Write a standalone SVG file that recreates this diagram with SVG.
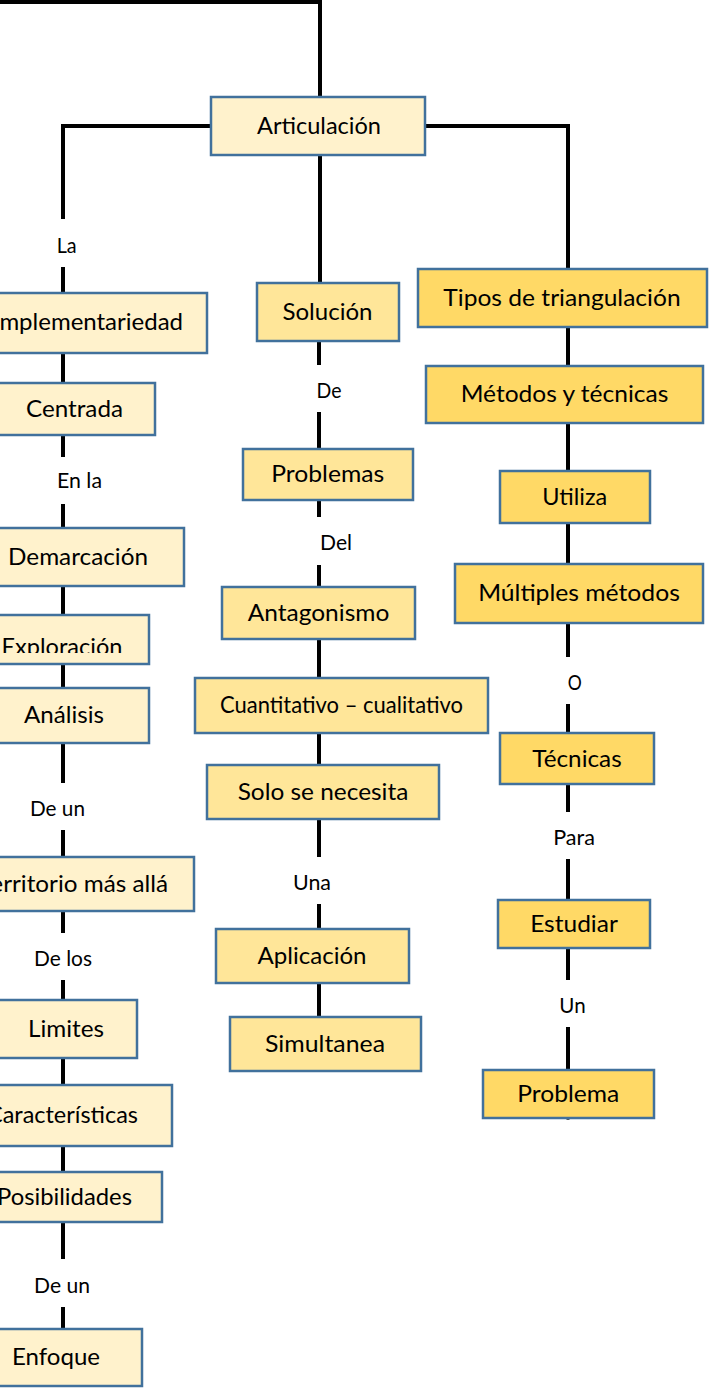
<svg xmlns="http://www.w3.org/2000/svg" width="711" height="1390" viewBox="0 0 711 1390">
<defs>
<style>
.c{stroke:#000;stroke-width:4;fill:none}
.b{stroke:#41719C;stroke-width:2.5}
.l1{fill:#FFF2CC}
.l2{fill:#FFE699}
.l3{fill:#FFD966}
.t{font-family:Lato,"Open Sans",sans-serif;font-size:24px;fill:#000;text-anchor:middle}
.s{font-family:Lato,"Open Sans",sans-serif;font-size:21.5px;fill:#000;text-anchor:middle}
</style>
<clipPath id="clipExp"><rect x="-30" y="600" width="200" height="53"/></clipPath>
</defs>
<rect width="711" height="1390" fill="#fff"/>
<g id="connectors">
<path class="c" d="M0,2 H320 V97"/>
<path class="c" d="M211,126 H63 V219"/>
<path class="c" d="M63,267 V293"/>
<path class="c" d="M425,126 H568 V269"/>
<path class="c" d="M320,155 V283"/>
<path class="c" d="M63,353 V383"/>
<path class="c" d="M63,435 V457"/>
<path class="c" d="M63,504 V528"/>
<path class="c" d="M63,586 V616"/>
<path class="c" d="M63,664 V688"/>
<path class="c" d="M63,743 V783"/>
<path class="c" d="M63,830 V857"/>
<path class="c" d="M63,911 V933"/>
<path class="c" d="M63,980 V1000"/>
<path class="c" d="M63,1058 V1085"/>
<path class="c" d="M63,1146 V1172"/>
<path class="c" d="M63,1222 V1259"/>
<path class="c" d="M63,1307 V1329"/>
<path class="c" d="M319,341 V365"/>
<path class="c" d="M319,412 V449"/>
<path class="c" d="M319,500 V517"/>
<path class="c" d="M319,565 V587"/>
<path class="c" d="M319,639 V678"/>
<path class="c" d="M319,733 V765"/>
<path class="c" d="M319,819 V857"/>
<path class="c" d="M319,904 V929"/>
<path class="c" d="M319,983 V1017"/>
<path class="c" d="M568,327 V366"/>
<path class="c" d="M568,423 V471"/>
<path class="c" d="M568,523 V564"/>
<path class="c" d="M568,623 V657"/>
<path class="c" d="M568,704 V733"/>
<path class="c" d="M568,784 V812"/>
<path class="c" d="M568,859 V900"/>
<path class="c" d="M568,948 V980"/>
<path class="c" d="M568,1027 V1070"/>
<path d="M568,1110 V1120" stroke="#555" stroke-width="3"/>
</g>
<g id="labels">
<text class="s" x="66.7" y="253" textLength="20" lengthAdjust="spacingAndGlyphs">La</text>
<text class="s" x="79.5" y="488" textLength="45" lengthAdjust="spacingAndGlyphs">En la</text>
<text class="s" x="57.5" y="816" textLength="55" lengthAdjust="spacingAndGlyphs">De un</text>
<text class="s" x="63" y="966" textLength="58" lengthAdjust="spacingAndGlyphs">De los</text>
<text class="s" x="62" y="1293" textLength="56" lengthAdjust="spacingAndGlyphs">De un</text>
<text class="s" x="329" y="398" textLength="25" lengthAdjust="spacingAndGlyphs">De</text>
<text class="s" x="336" y="550" textLength="32" lengthAdjust="spacingAndGlyphs">Del</text>
<text class="s" x="312" y="890" textLength="38" lengthAdjust="spacingAndGlyphs">Una</text>
<text class="s" x="574.7" y="690" textLength="14" lengthAdjust="spacingAndGlyphs">O</text>
<text class="s" x="574" y="845" textLength="41.7" lengthAdjust="spacingAndGlyphs">Para</text>
<text class="s" x="572.5" y="1013" textLength="26.3" lengthAdjust="spacingAndGlyphs">Un</text>
</g>
<g id="n-articulacion"><rect class="b l1" x="211" y="97" width="214" height="58"/><text class="t" x="319" y="134" textLength="124" lengthAdjust="spacingAndGlyphs">Articulación</text></g>
<g id="n-complementariedad"><rect class="b l1" x="-54" y="293" width="261" height="60"/><text class="t" x="76.5" y="330" textLength="213" lengthAdjust="spacingAndGlyphs">Complementariedad</text></g>
<g id="n-centrada"><rect class="b l1" x="-6" y="383" width="161" height="52"/><text class="t" x="74.5" y="417" textLength="97" lengthAdjust="spacingAndGlyphs">Centrada</text></g>
<g id="n-demarcacion"><rect class="b l1" x="-28" y="528" width="212" height="58"/><text class="t" x="78" y="565" textLength="140" lengthAdjust="spacingAndGlyphs">Demarcación</text></g>
<g id="n-exploracion"><rect class="b l1" x="-24" y="615" width="173" height="49"/><text class="t" x="62" y="655" textLength="121" lengthAdjust="spacingAndGlyphs" clip-path="url(#clipExp)">Exploración</text></g>
<g id="n-analisis"><rect class="b l1" x="-21" y="688" width="170" height="55"/><text class="t" x="64" y="723" textLength="80" lengthAdjust="spacingAndGlyphs">Análisis</text></g>
<g id="n-territorio"><rect class="b l1" x="-47" y="857" width="241" height="54"/><text class="t" x="73.5" y="892" textLength="189" lengthAdjust="spacingAndGlyphs">Territorio más allá</text></g>
<g id="n-limites"><rect class="b l1" x="-5" y="1000" width="142" height="58"/><text class="t" x="66" y="1037" textLength="76" lengthAdjust="spacingAndGlyphs">Limites</text></g>
<g id="n-caracteristicas"><rect class="b l1" x="-47" y="1085" width="219" height="61"/><text class="t" x="62.5" y="1123" textLength="151" lengthAdjust="spacingAndGlyphs">Características</text></g>
<g id="n-posibilidades"><rect class="b l1" x="-33" y="1172" width="195" height="50"/><text class="t" x="64.5" y="1205" textLength="135" lengthAdjust="spacingAndGlyphs">Posibilidades</text></g>
<g id="n-enfoque"><rect class="b l1" x="-30" y="1329" width="172" height="57"/><text class="t" x="56" y="1365" textLength="88" lengthAdjust="spacingAndGlyphs">Enfoque</text></g>
<g id="n-solucion"><rect class="b l2" x="257" y="283" width="142" height="58"/><text class="t" x="327.5" y="320" textLength="90" lengthAdjust="spacingAndGlyphs">Solución</text></g>
<g id="n-problemas"><rect class="b l2" x="243" y="449" width="170" height="51"/><text class="t" x="327.7" y="482" textLength="113" lengthAdjust="spacingAndGlyphs">Problemas</text></g>
<g id="n-antagonismo"><rect class="b l2" x="222" y="587" width="193" height="52"/><text class="t" x="318.5" y="621" textLength="141.6" lengthAdjust="spacingAndGlyphs">Antagonismo</text></g>
<g id="n-cuantitativo"><rect class="b l2" x="195" y="678" width="293" height="55"/><text class="t" x="341.5" y="713" font-size="21.5" textLength="243" lengthAdjust="spacingAndGlyphs">Cuantitativo – cualitativo</text></g>
<g id="n-solo"><rect class="b l2" x="207" y="765" width="232" height="54"/><text class="t" x="323" y="800" textLength="170.7" lengthAdjust="spacingAndGlyphs">Solo se necesita</text></g>
<g id="n-aplicacion"><rect class="b l2" x="216" y="929" width="193" height="54"/><text class="t" x="312" y="964" textLength="109" lengthAdjust="spacingAndGlyphs">Aplicación</text></g>
<g id="n-simultanea"><rect class="b l2" x="230" y="1017" width="191" height="54"/><text class="t" x="325" y="1052" textLength="120" lengthAdjust="spacingAndGlyphs">Simultanea</text></g>
<g id="n-tipos"><rect class="b l3" x="418" y="269" width="289" height="58"/><text class="t" x="562" y="306" textLength="237.3" lengthAdjust="spacingAndGlyphs">Tipos de triangulación</text></g>
<g id="n-metodos"><rect class="b l3" x="426" y="366" width="277" height="57"/><text class="t" x="564.5" y="402" textLength="207.7" lengthAdjust="spacingAndGlyphs">Métodos y técnicas</text></g>
<g id="n-utiliza"><rect class="b l3" x="500" y="471" width="150" height="52"/><text class="t" x="574.8" y="505" textLength="65" lengthAdjust="spacingAndGlyphs">Utiliza</text></g>
<g id="n-multiples"><rect class="b l3" x="455" y="564" width="248" height="59"/><text class="t" x="579" y="601" textLength="201.7" lengthAdjust="spacingAndGlyphs">Múltiples métodos</text></g>
<g id="n-tecnicas"><rect class="b l3" x="500" y="733" width="154" height="51"/><text class="t" x="577" y="767" textLength="89.3" lengthAdjust="spacingAndGlyphs">Técnicas</text></g>
<g id="n-estudiar"><rect class="b l3" x="498" y="900" width="152" height="48"/><text class="t" x="574" y="932" textLength="87.7" lengthAdjust="spacingAndGlyphs">Estudiar</text></g>
<g id="n-problema"><rect class="b l3" x="483" y="1070" width="171" height="48"/><text class="t" x="568.3" y="1102" textLength="102" lengthAdjust="spacingAndGlyphs">Problema</text></g>
</svg>
